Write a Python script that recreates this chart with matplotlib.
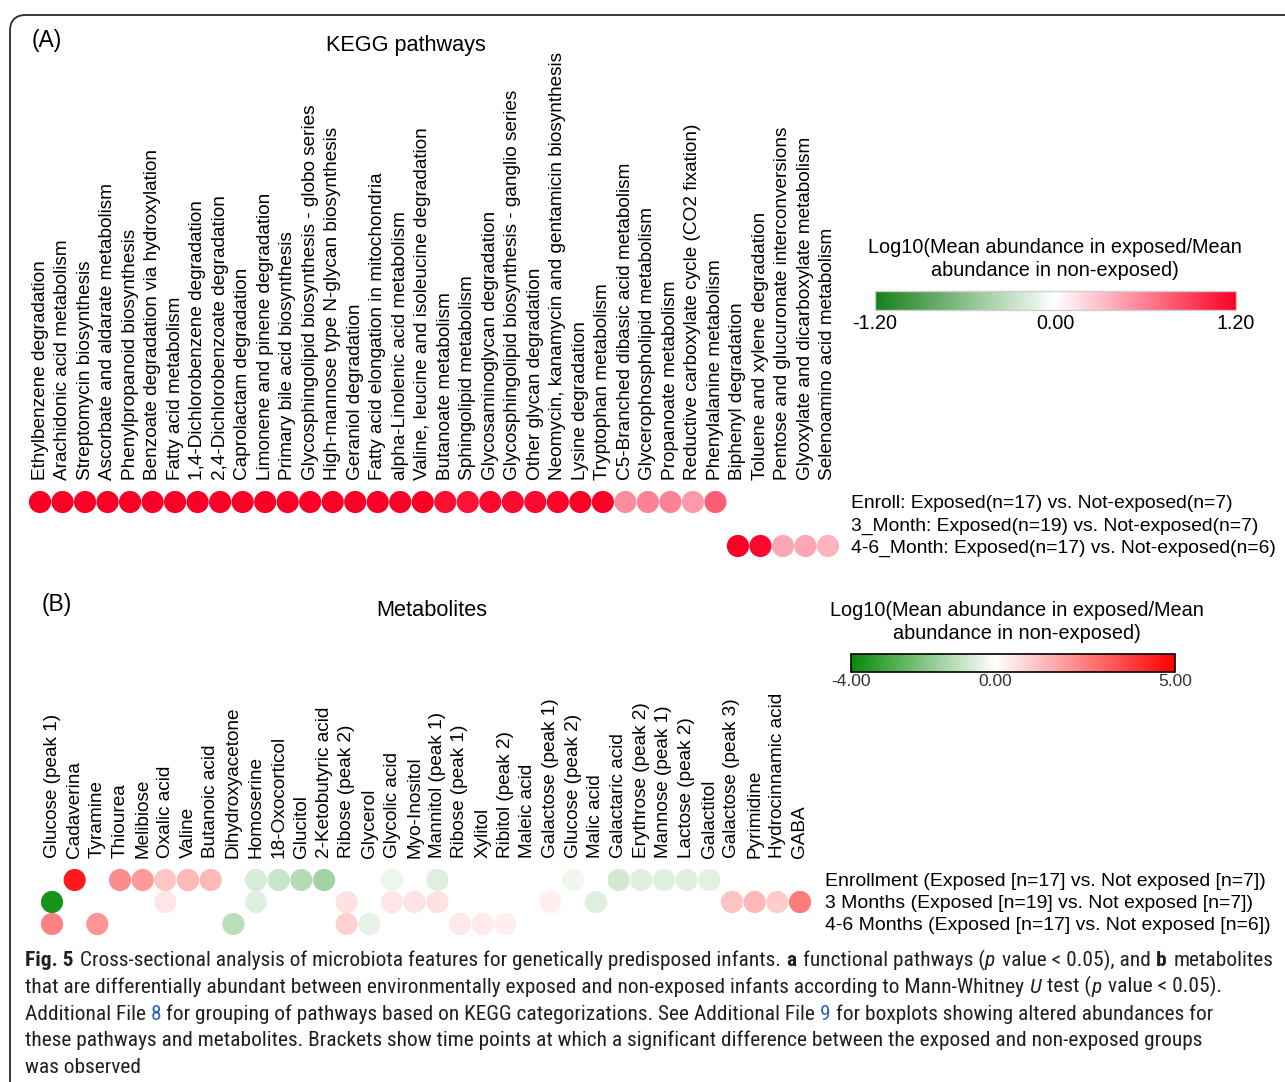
import matplotlib
matplotlib.use("Agg")
import numpy as np
import matplotlib.pyplot as plt
from matplotlib.colors import LinearSegmentedColormap, Normalize
from matplotlib.cm import ScalarMappable
from matplotlib.patches import FancyBboxPatch
from matplotlib import font_manager

# ---------------------------------------------------------------- data
pathways = [
    "Ethylbenzene degradation", "Arachidonic acid metabolism",
    "Streptomycin biosynthesis", "Ascorbate and aldarate metabolism",
    "Phenylpropanoid biosynthesis", "Benzoate degradation via hydroxylation",
    "Fatty acid metabolism", "1,4-Dichlorobenzene degradation",
    "2,4-Dichlorobenzoate degradation", "Caprolactam degradation",
    "Limonene and pinene degradation", "Primary bile acid biosynthesis",
    "Glycosphingolipid biosynthesis - globo series",
    "High-mannose type N-glycan biosynthesis", "Geraniol degradation",
    "Fatty acid elongation in mitochondria", "alpha-Linolenic acid metabolism",
    "Valine, leucine and isoleucine degradation", "Butanoate metabolism",
    "Sphingolipid metabolism", "Glycosaminoglycan degradation",
    "Glycosphingolipid biosynthesis - ganglio series",
    "Other glycan degradation",
    "Neomycin, kanamycin and gentamicin biosynthesis", "Lysine degradation",
    "Tryptophan metabolism", "C5-Branched dibasic acid metabolism",
    "Glycerophospholipid metabolism", "Propanoate metabolism",
    "Reductive carboxylate cycle (CO2 fixation)", "Phenylalanine metabolism",
    "Biphenyl degradation", "Toluene and xylene degradation",
    "Pentose and glucuronate interconversions",
    "Glyoxylate and dicarboxylate metabolism", "Selenoamino acid metabolism",
]
pathway_rows = [
    "Enroll: Exposed(n=17) vs. Not-exposed(n=7)",
    "3_Month: Exposed(n=19) vs. Not-exposed(n=7)",
    "4-6_Month: Exposed(n=17) vs. Not-exposed(n=6)",
]
N = None
kegg_enroll = [1.20, 1.20, 1.20, 1.20, 1.20, 1.20, 1.20, 1.20, 1.20, 1.20,
               1.20, 1.20, 1.20, 1.20, 1.20, 1.20, 1.20, 1.20, 1.12, 1.10,
               1.15, 1.15, 1.15, 1.18, 1.20, 1.20, 0.54, 0.59, 0.59, 0.47,
               0.75, N, N, N, N, N]
kegg_month3 = [N, N, N, N, N, N, N, N, N, N, N, N, N, N, N, N, N, N,
               N, N, N, N, N, N, N, N, N, N, N, N, N, N, N, N, N, N]
kegg_month46 = [N, N, N, N, N, N, N, N, N, N, N, N, N, N, N, N, N, N,
                N, N, N, N, N, N, N, N, N, N, N, N, N,
                1.20, 1.15, 0.42, 0.42, 0.35]

metabolites = [
    "Glucose (peak 1)", "Cadaverina", "Tyramine", "Thiourea", "Melibiose",
    "Oxalic acid", "Valine", "Butanoic acid", "Dihydroxyacetone", "Homoserine",
    "18-Oxocorticol", "Glucitol", "2-Ketobutyric acid", "Ribose (peak 2)",
    "Glycerol", "Glycolic acid", "Myo-Inositol", "Mannitol (peak 1)",
    "Ribose (peak 1)", "Xylitol", "Ribitol (peak 2)", "Maleic acid",
    "Galactose (peak 1)", "Glucose (peak 2)", "Malic acid", "Galactaric acid",
    "Erythrose (peak 2)", "Mannose (peak 1)", "Lactose (peak 2)", "Galactitol",
    "Galactose (peak 3)", "Pyrimidine", "Hydrocinnamic acid", "GABA",
]
metabolite_rows = [
    "Enrollment (Exposed [n=17] vs. Not exposed [n=7])",
    "3 Months (Exposed [n=19] vs. Not exposed [n=7])",
    "4-6 Months (Exposed [n=17] vs. Not exposed [n=6])",
]
met_enroll = [N, 4.50, N, 2.25, 2.00, 1.10, 1.40, 1.40, N, -0.65,
              -0.90, -1.20, -1.50, N, N, -0.30, N, -0.55, N, N,
              N, N, N, -0.25, N, -0.75, -0.50, -0.50, -0.50, -0.45,
              N, N, N, N]
met_month3 = [-3.70, N, N, N, N, 0.50, N, N, N, -0.50,
              N, N, N, 0.60, N, 0.50, 0.55, 0.60, N, N,
              N, N, 0.30, N, -0.50, N, N, N, N, N,
              1.20, 1.40, 1.00, 2.55]
met_month46 = [2.45, N, 2.05, N, N, N, N, N, -1.15, N,
               N, N, N, 0.90, -0.40, N, N, N, 0.40, 0.40,
               0.30, N, N, N, N, N, N, N, N, N,
               N, N, N, N]

kegg_range = (-1.20, 1.20)
met_range = (-4.00, 5.00)

# ---------------------------------------------------------------- fonts
names = {f.name for f in font_manager.fontManager.ttflist}
SANS = "Liberation Sans"
CAPTION_FONT = next((f for f in ["Liberation Sans Narrow", "Roboto Condensed",
                                 "Open Sans Condensed", "Lato", "Noto Sans"]
                     if f in names), "DejaVu Sans")
plt.rcParams["font.family"] = [SANS, "DejaVu Sans"]

W, H = 1285, 1082
fig = plt.figure(figsize=(W / 100, H / 100), dpi=100)
fig.patch.set_facecolor("white")


def px_axes(left, top, right, bottom):
    return fig.add_axes([left / W, 1 - bottom / H, (right - left) / W,
                         (bottom - top) / H])


# background layer in pixel units: frame, titles, caption
bg = fig.add_axes([0, 0, 1, 1], zorder=-5)
bg.set_xlim(0, W)
bg.set_ylim(H, 0)
bg.axis("off")
bg.add_patch(FancyBboxPatch((10, 15), 1320, 1120,
                            boxstyle="round,pad=0,rounding_size=16",
                            fc="none", ec="#2b2b2b", lw=1.3))

red_a = "#fb0026"
green_a = "#17801a"
cmap_a = LinearSegmentedColormap.from_list(
    "kegg", [(0.0, green_a), (0.5, "white"), (1.0, red_a)])
norm_a = Normalize(*kegg_range)

green_b = "#088a08"
red_b = "#ff0000"
white_pos = -met_range[0] / (met_range[1] - met_range[0])
cmap_b = LinearSegmentedColormap.from_list(
    "met", [(0.0, green_b), (white_pos, "white"), (1.0, red_b)])
norm_b = Normalize(*met_range)


def dot_panel(ax, cols, rows, series, cmap, norm, label_fs, row_fs, pad):
    n = len(cols)
    for r, vals in enumerate(series):
        xs = [i for i, v in enumerate(vals) if v is not None]
        vs = [v for v in vals if v is not None]
        if xs:
            ax.scatter(xs, [r] * len(xs), c=vs, cmap=cmap, norm=norm,
                       s=255, linewidths=0, zorder=3)
    ax.set_xlim(-0.5, n - 0.5)
    ax.set_ylim(len(rows) - 0.5, -0.5)
    ax.xaxis.tick_top()
    ax.set_xticks(range(n))
    ax.set_xticklabels(cols, rotation=90, fontsize=label_fs, color="black")
    ax.yaxis.tick_right()
    ax.set_yticks(range(len(rows)))
    ax.set_yticklabels(rows, fontsize=row_fs, color="black")
    ax.tick_params(axis="x", length=0, pad=8)
    ax.tick_params(axis="y", length=0, pad=pad)
    for s in ax.spines.values():
        s.set_visible(False)
    ax.patch.set_alpha(0)


# ---------------------------------------------------------------- panel A
axA = px_axes(28.75, 491, 839.25, 557)
dot_panel(axA, pathways, pathway_rows,
          [kegg_enroll, kegg_month3, kegg_month46],
          cmap_a, norm_a, 13.65, 13.9, 8.5)
bg.text(32, 40, "(A)", fontsize=16.5, ha="left", va="center")
bg.text(406, 46, "KEGG pathways", fontsize=15.6, ha="center", va="center")

caxA = px_axes(875, 291, 1236, 310)
cbA = fig.colorbar(ScalarMappable(norm=norm_a, cmap=cmap_a), cax=caxA,
                   orientation="horizontal")
cbA.set_ticks([-1.2, 0.0, 1.2], labels=["-1.20", "0.00", "1.20"])
cbA.ax.tick_params(length=0, pad=3, labelsize=14.2)
cbA.outline.set_edgecolor("#cfcfcf")
cbA.outline.set_linewidth(1)
bg.text(1055, 259, "Log10(Mean abundance in exposed/Mean\n"
        "abundance in non-exposed)", fontsize=14.3, ha="center",
        va="center", linespacing=1.25)

# ---------------------------------------------------------------- panel B
axB = px_axes(40.67, 869, 811.33, 935)
dot_panel(axB, metabolites, metabolite_rows,
          [met_enroll, met_month3, met_month46],
          cmap_b, norm_b, 13.7, 13.95, 9.5)
bg.text(42, 604, "(B)", fontsize=16.5, ha="left", va="center")
bg.text(432, 610, "Metabolites", fontsize=15.7, ha="center", va="center")

caxB = px_axes(851, 654, 1175, 672)
cbB = fig.colorbar(ScalarMappable(norm=norm_b, cmap=cmap_b), cax=caxB,
                   orientation="horizontal")
cbB.set_ticks([-4.0, 0.0, 5.0], labels=["-4.00", "0.00", "5.00"])
cbB.ax.tick_params(length=0, pad=1.5, labelsize=12.5, labelcolor="#333333")
cbB.outline.set_edgecolor("black")
cbB.outline.set_linewidth(1.2)
bg.text(1017, 622, "Log10(Mean abundance in exposed/Mean\n"
        "abundance in non-exposed)", fontsize=14.3, ha="center",
        va="center", linespacing=1.25)

# ---------------------------------------------------------------- caption
TXT = "#231f20"
LINK = "#2a62c4"
B, I, R, L = "bold", "italic", "normal", "link"
caption = [
    [("Fig. 5", B), (" Cross-sectional analysis of microbiota features for "
                     "genetically predisposed infants. ", R), ("a", B),
     (" functional pathways (", R), ("p", I), (" value < 0.05), and ", R),
     ("b", B), (" metabolites", R)],
    [("that are differentially abundant between environmentally exposed and "
      "non-exposed infants according to Mann-Whitney ", R), ("U", I),
     (" test (", R), ("p", I), (" value < 0.05).", R)],
    [("Additional File ", R), ("8", L), (" for grouping of pathways based on "
                                         "KEGG categorizations. See Additional"
                                         " File ", R), ("9", L),
     (" for boxplots showing altered abundances for", R)],
    [("these pathways and metabolites. Brackets show time points at which a "
      "significant difference between the exposed and non-exposed groups", R)],
    [("was observed", R)],
]

renderer = fig.canvas.get_renderer()


def text_width(s, size, style):
    kw = dict(fontsize=size, family=[CAPTION_FONT, "DejaVu Sans"])
    if style == B:
        kw["fontweight"] = "bold"
    if style == I:
        kw["fontstyle"] = "italic"
    t = bg.text(0, 0, "|" + s + "|", **kw)
    w = t.get_window_extent(renderer).width
    t.remove()
    t = bg.text(0, 0, "||", **kw)
    w -= t.get_window_extent(renderer).width
    t.remove()
    return w


def line_width(runs, size):
    return sum(text_width(s, size, st) for s, st in runs)


base = 14.0
cap_size = base * (1250.0 / line_width(caption[0], base))

y = 966
for runs in caption:
    x = 25
    prev = None
    for s, st in runs:
        kw = dict(fontsize=cap_size, family=[CAPTION_FONT, "DejaVu Sans"],
                  color=TXT, ha="left", va="baseline")
        if st == B:
            kw["fontweight"] = "bold"
        if st == I:
            kw["fontstyle"] = "italic"
        if st == L:
            kw["color"] = LINK
        lead = len(s) - len(s.lstrip(" "))
        if lead:
            x += text_width(" " * lead, cap_size, st)
            if prev in (B, I):
                x += 2.0
        bg.text(x, y, s.strip(" "), **kw)
        x += text_width(s.lstrip(" "), cap_size, st)
        prev = st
    y += 26.8

fig.savefig("out.png", dpi=100, facecolor="white")
